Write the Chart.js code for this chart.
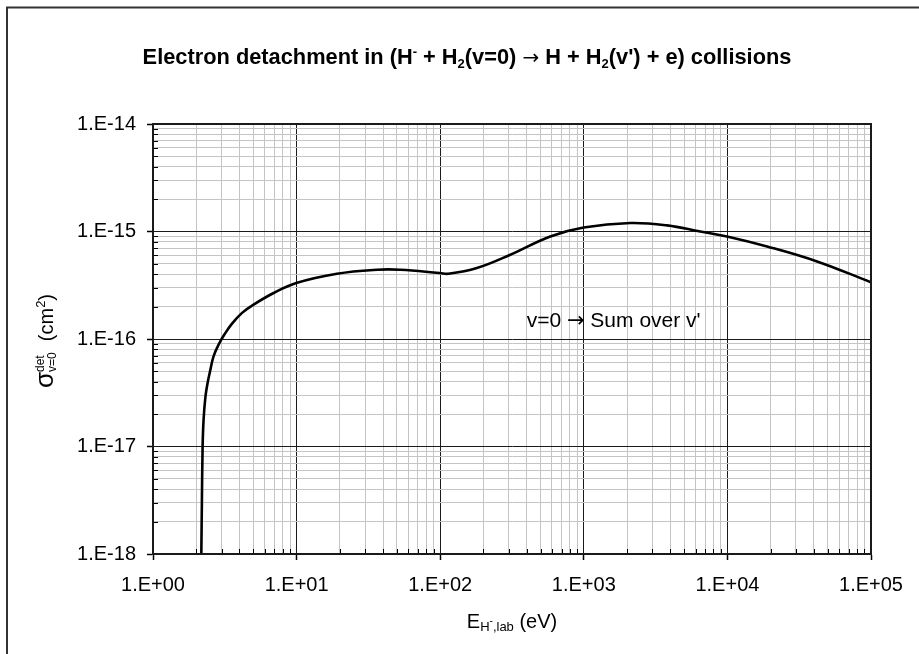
<!DOCTYPE html>
<html><head><meta charset="utf-8">
<script src="https://cdn.jsdelivr.net/npm/chart.js@4.4.1/dist/chart.umd.min.js"></script>
<style>html,body{margin:0;padding:0;background:#fff}canvas{display:block}</style>
</head><body>
<canvas id="c" width="919" height="654"></canvas>
<script>
// ---- data ----
const energies = [2.17, 2.19, 2.215, 2.25, 2.32, 2.40, 2.51, 2.64, 2.86, 3.14, 3.55, 4.17, 5.02, 6.92, 9.95, 19.1, 36.3, 52.9, 99, 114, 180, 308, 584, 997, 2110, 3800, 6470, 9930, 18900, 42100, 100000];
const sigmaDet = [1.0e-18, 3e-18, 9.8e-18, 1.77e-17, 2.92e-17, 3.9e-17, 5.18e-17, 6.9e-17, 8.85e-17, 1.1e-16, 1.39e-16, 1.75e-16, 2.09e-16, 2.68e-16, 3.32e-16, 4.05e-16, 4.41e-16, 4.41e-16, 4.11e-16, 4.04e-16, 4.57e-16, 6.08e-16, 9.0e-16, 1.09e-15, 1.2e-15, 1.14e-15, 1.0e-15, 9.0e-16, 7.26e-16, 5.27e-16, 3.37e-16];
const xDecades = [1, 10, 100, 1000, 10000, 100000];
const xTickLabels = ['1.E+00', '1.E+01', '1.E+02', '1.E+03', '1.E+04', '1.E+05'];
const yDecades = [1e-18, 1e-17, 1e-16, 1e-15, 1e-14];
const yTickLabels = ['1.E-18', '1.E-17', '1.E-16', '1.E-15', '1.E-14'];
const minorSteps = [2, 3, 4, 5, 6, 7, 8, 9];
const annotationAt = { x: 400, y: 1.28e-16 };

const FAMILY = "'Liberation Sans', Arial, Helvetica, sans-serif";
const ARROW_FAMILY = "'DejaVu Sans', 'Liberation Sans', sans-serif";

function allTicks(decades) {
  const out = [];
  decades.forEach((d, i) => {
    out.push(d);
    if (i < decades.length - 1) minorSteps.forEach(m => out.push(d * m));
  });
  return out;
}
function decadeIndex(v, decades) {
  const lv = Math.log10(v);
  for (let i = 0; i < decades.length; i++) if (Math.abs(lv - Math.log10(decades[i])) < 1e-6) return i;
  return -1;
}
const xTickVals = allTicks(xDecades);
const yTickVals = allTicks(yDecades);

function fnt(s) { return (s.bold ? 'bold ' : '') + s.size + 'px ' + (s.family || FAMILY); }
function richWidth(ctx, segs) {
  let w = 0;
  segs.forEach(s => { ctx.font = fnt(s); const m = ctx.measureText(s.t).width; if (s.adv !== false) w += m; });
  return w;
}
function drawRich(ctx, segs, x, y, align) {
  const w = richWidth(ctx, segs);
  let cx = align === 'center' ? x - w / 2 : x;
  ctx.textAlign = 'left';
  ctx.textBaseline = 'alphabetic';
  segs.forEach(s => {
    ctx.font = fnt(s);
    ctx.fillText(s.t, cx, y + (s.dy || 0));
    if (s.adv !== false) cx += ctx.measureText(s.t).width;
  });
}

const titleSegs = [
  { t: 'Electron detachment in (H', size: 21.8, bold: true },
  { t: '-', size: 13, bold: true, dy: -8 },
  { t: ' + H', size: 21.8, bold: true },
  { t: '2', size: 13, bold: true, dy: 4 },
  { t: '(v=0) ', size: 21.8, bold: true },
  { t: '\u2192', size: 20, family: ARROW_FAMILY },
  { t: ' H + H', size: 21.8, bold: true },
  { t: '2', size: 13, bold: true, dy: 4 },
  { t: '(v\') + e) collisions', size: 21.8, bold: true }
];
const xTitleSegs = [
  { t: 'E', size: 20 },
  { t: 'H', size: 13, dy: 3 },
  { t: '-', size: 10, dy: -4 },
  { t: ',lab', size: 13, dy: 3 },
  { t: ' (eV)', size: 20 }
];
const yTitleSegs = [
  { t: '\u03C3', size: 26 },
  { t: 'det', size: 12, dy: -9, adv: false },
  { t: 'v=0', size: 12, dy: 3 },
  { t: '  (cm', size: 20 },
  { t: '2', size: 13, dy: -8 },
  { t: ')', size: 20 }
];
const annotationSegs = [
  { t: 'v=0 ', size: 21 },
  { t: '\u2192', size: 21, family: ARROW_FAMILY },
  { t: ' Sum over v\'', size: 21 }
];

const decor = {
  id: 'decor',
  beforeDatasetsDraw(chart) {
    const { ctx, chartArea: a, scales } = chart;
    ctx.save();
    ctx.strokeStyle = '#000';
    ctx.lineWidth = 1;
    xTickVals.forEach(v => {
      if (decadeIndex(v, xDecades) >= 0) return;
      const px = Math.round(scales.x.getPixelForValue(v)) + 0.5;
      ctx.beginPath(); ctx.moveTo(px, a.bottom); ctx.lineTo(px, a.bottom - 5); ctx.stroke();
    });
    yTickVals.forEach(v => {
      if (decadeIndex(v, yDecades) >= 0) return;
      const py = Math.round(scales.y.getPixelForValue(v)) + 0.5;
      ctx.beginPath(); ctx.moveTo(a.left, py); ctx.lineTo(a.left + 5, py); ctx.stroke();
    });
    ctx.restore();
  },
  afterDraw(chart) {
    const { ctx, chartArea: a, scales } = chart;
    ctx.save();
    ctx.strokeStyle = '#1a1a1a';
    ctx.lineWidth = 2;
    ctx.strokeRect(a.left, a.top, a.right - a.left, a.bottom - a.top);
    ctx.strokeStyle = '#333';
    ctx.lineWidth = 2;
    ctx.beginPath();
    ctx.moveTo(7, 660); ctx.lineTo(7, 7.5); ctx.lineTo(925, 7.5);
    ctx.stroke();
    ctx.fillStyle = '#000';
    drawRich(ctx, titleSegs, 467, 64, 'center');
    drawRich(ctx, xTitleSegs, (a.left + a.right) / 2, 628, 'center');
    ctx.save();
    ctx.translate(53, 341);
    ctx.rotate(-Math.PI / 2);
    drawRich(ctx, yTitleSegs, 0, 0, 'center');
    ctx.restore();
    drawRich(ctx, annotationSegs, scales.x.getPixelForValue(annotationAt.x), scales.y.getPixelForValue(annotationAt.y), 'left');
    ctx.restore();
  }
};

const majorColor = '#1a1a1a';
const minorColor = '#c4c4c4';

new Chart(document.getElementById('c'), {
  type: 'line',
  data: {
    datasets: [{
      data: energies.map((e, i) => ({ x: e, y: sigmaDet[i] })),
      borderColor: '#000',
      borderWidth: 2.6,
      pointRadius: 0,
      fill: false,
      tension: 0.4
    }]
  },
  options: {
    responsive: false,
    animation: false,
    devicePixelRatio: 1,
    layout: { padding: { top: 124, right: 48, left: 0, bottom: 0 } },
    plugins: { legend: { display: false }, title: { display: false }, tooltip: { enabled: false } },
    scales: {
      x: {
        type: 'logarithmic',
        min: 1, max: 100000,
        afterBuildTicks: s => { s.ticks = xTickVals.map(v => ({ value: v })); },
        afterFit: s => { s.height = 100; },
        ticks: {
          autoSkip: false, maxRotation: 0, minRotation: 0, padding: 13,
          color: '#000', font: { family: FAMILY, size: 20 },
          callback: v => { const i = decadeIndex(v, xDecades); return i >= 0 ? xTickLabels[i] : ''; }
        },
        grid: {
          color: c => (decadeIndex(c.tick.value, xDecades) >= 0 ? majorColor : minorColor),
          lineWidth: 1,
          tickLength: 6,
          tickWidth: 1.5,
          tickColor: c => (decadeIndex(c.tick.value, xDecades) >= 0 ? '#000' : 'rgba(0,0,0,0)')
        },
        border: { display: true, color: '#1a1a1a', width: 2 }
      },
      y: {
        type: 'logarithmic',
        min: 1e-18, max: 1e-14,
        afterBuildTicks: s => { s.ticks = yTickVals.map(v => ({ value: v })); },
        afterFit: s => { s.width = 153; },
        ticks: {
          autoSkip: false, padding: 11,
          color: '#000', font: { family: FAMILY, size: 20 },
          callback: v => { const i = decadeIndex(v, yDecades); return i >= 0 ? yTickLabels[i] : ''; }
        },
        grid: {
          color: c => (decadeIndex(c.tick.value, yDecades) >= 0 ? majorColor : minorColor),
          lineWidth: 1,
          tickLength: 6,
          tickWidth: 1.5,
          tickColor: c => (decadeIndex(c.tick.value, yDecades) >= 0 ? '#000' : 'rgba(0,0,0,0)')
        },
        border: { display: true, color: '#1a1a1a', width: 2 }
      }
    }
  },
  plugins: [decor]
});
</script>
</body></html>
